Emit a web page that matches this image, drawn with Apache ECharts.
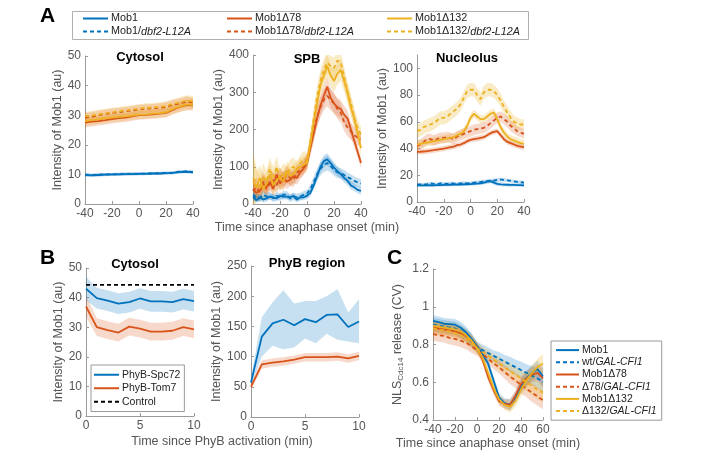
<!DOCTYPE html>
<html>
<head>
<meta charset="utf-8">
<script src="https://cdn.jsdelivr.net/npm/echarts@6/dist/echarts.min.js"></script>
<style>
  html, body { margin: 0; padding: 0; background: #fff; }
  #chart { width: 727px; height: 458px; }
</style>
</head>
<body>
<div id="chart"></div>
<script>
// ---- colours (MATLAB default order)
const BLUE = '#0072BD', RED = '#D95319', YEL = '#EDB120';

// ---- Panel A : time axes
const tA = [-40,-35,-30,-25,-20,-15,-10,-5,0,5,10,15,20,25,30,35,40];
const tFine = [-40,-37.5,-35,-32.5,-30,-27.5,-25,-22.5,-20,-17.5,-15,-12.5,-10,-7.5,-5,-2.5,0,2.5,5,7.5,10,12.5,15,17.5,20,22.5,25,27.5,30,32.5,35,37.5,40];

// A - Cytosol
const cytMob1     = [9.8,9.7,9.8,9.9,10.0,10.0,10.1,10.1,10.2,10.2,10.3,10.3,10.4,10.5,10.8,10.9,10.7];
const cytMob1Dbf  = [9.9,9.8,9.9,10.0,10.0,10.1,10.1,10.2,10.2,10.3,10.3,10.4,10.5,10.6,10.9,11.0,10.8];
const cytD78      = [27.5,27.8,28.0,28.3,28.7,29.0,29.2,29.6,30.0,30.1,30.3,30.5,30.8,31.8,32.8,33.4,33.5];
const cytD78Dbf   = [29.2,29.5,30.0,30.4,30.8,31.0,31.3,31.6,32.0,32.2,32.3,32.5,32.8,33.5,34.0,34.5,34.3];
const cytD132     = [28.0,28.3,28.6,28.9,29.2,29.4,29.6,29.9,30.2,30.3,30.5,30.7,31.0,32.0,32.9,33.6,33.6];
const cytD132Dbf  = [29.6,29.9,30.3,30.7,31.0,31.3,31.6,31.9,32.2,32.5,32.6,32.8,33.1,33.8,34.3,34.9,34.7];
const cytErrBlue  = [0.5,0.5,0.5,0.5,0.5,0.5,0.5,0.5,0.5,0.5,0.5,0.5,0.5,0.5,0.5,0.5,0.5];
const cytErrOr    = [1.6,1.6,1.5,1.5,1.5,1.5,1.5,1.5,1.5,1.5,1.5,1.5,1.6,1.6,1.7,1.8,1.8];

// A - SPB
const spbMob1    = [20,10,18,12,15,20,18,15,22,20,20,18,22,12,18,18,22,30,50,75,100,115,120,110,98,88,80,70,62,50,45,38,35];
const spbMob1Dbf = [25,18,15,25,20,22,15,22,18,25,25,15,20,18,20,25,28,40,60,80,95,105,110,102,92,85,82,78,72,68,62,58,55];
const spbD78     = [40,30,35,55,45,60,40,80,55,70,60,65,75,70,85,95,110,150,190,230,265,290,315,285,270,260,255,240,230,200,170,140,110];
const spbD78Dbf  = [35,45,30,60,40,55,65,50,75,60,80,70,65,85,90,100,115,155,195,235,260,280,290,280,270,255,245,220,205,195,185,178,175];
const spbD132    = [60,45,70,40,55,80,50,65,70,60,90,75,80,95,100,105,110,160,220,270,320,345,370,345,330,350,360,330,300,260,230,190,150];
const spbD132Dbf = [70,55,40,75,60,95,70,100,65,85,75,95,100,90,110,120,115,170,230,290,330,360,380,370,365,385,380,340,300,270,230,205,185];
const spbErrMob1    = [10,8,8,8,8,8,8,8,8,8,8,8,8,8,8,8,9,10,12,14,15,16,16,15,14,13,12,12,11,11,10,10,10];
const spbErrMob1Dbf = [12,10,10,10,10,10,10,10,10,10,10,10,10,10,10,10,10,12,14,16,18,20,20,18,16,15,14,14,13,12,12,12,12];
const spbErrD78     = [25,20,20,22,20,20,20,22,20,20,20,18,18,18,18,18,18,20,22,24,25,26,26,26,25,25,24,24,22,20,18,16,15];
const spbErrD78Dbf  = [30,25,22,25,22,22,22,22,22,22,22,20,20,20,20,20,20,22,24,26,28,28,28,28,28,26,26,24,24,22,22,20,20];
const spbErrD132    = [70,40,35,35,30,30,30,28,28,25,25,25,25,22,22,22,22,24,26,28,30,30,30,30,30,30,30,28,28,26,25,24,22];
const spbErrD132Dbf = [70,45,35,35,30,30,30,28,28,25,25,25,25,22,22,22,22,24,26,28,30,30,28,28,28,28,28,28,26,26,25,24,22];

// A - Nucleolus
const nucMob1    = [12.5,12.5,12.4,12.5,12.6,12.5,12.6,12.7,12.8,12.8,12.9,13.0,13.0,13.1,13.2,13.3,13.4,13.6,13.8,14.0,14.5,15.2,15.6,14.5,13.5,13.2,13.0,12.9,12.8,12.8,12.7,12.6,12.5];
const nucMob1Dbf = [13.0,13.2,13.0,13.4,14.0,13.5,13.2,14.0,13.8,13.5,14.2,13.8,13.6,14.0,14.3,13.9,14.2,14.5,14.8,15.0,15.3,15.6,15.8,16.0,16.5,16.8,16.5,16.2,15.8,15.5,15.0,14.8,14.5];
const nucD78     = [37.5,37.6,37.8,38.0,38.5,38.8,39.2,39.6,40.0,40.5,41.0,41.5,42.5,43.0,44.0,45.5,46.5,47.0,47.5,48.0,48.5,50.0,51.5,52.5,53.0,50.0,47.0,45.0,44.0,43.0,42.0,41.5,41.0];
const nucD78Dbf  = [42,43,45,47,47,46,47,48,48,48.5,48,47,49,50,51,52,53,54,54.5,55,55.5,57,59,61,63,64,62,60,57,55,53,52,51];
const nucD132    = [43,43.5,44,44.5,45,45.5,46,46.5,47,47.5,48,48.5,50,51,53,57,63,66,64,62,62,64,66,67,62,56,52,49,47,46,45,44,43.5];
const nucD132Dbf = [53,54,56,57,58,59,61,63,63,64,66,68,70,73,78,83,84,84,80,77,82,84,84,83,80,76,71,67,63,60,59,58,58];
const nucErrBlue = [1.2,1.2,1.2,1.2,1.2,1.2,1.2,1.2,1.2,1.2,1.2,1.2,1.2,1.2,1.2,1.2,1.2,1.2,1.2,1.3,1.4,1.5,1.5,1.5,1.5,1.5,1.4,1.3,1.3,1.2,1.2,1.2,1.2];
const nucErrD78  = [2,2,2,2,2,2,2,2,2,2,2,2,2,2,2,2,2,2,2,2,2,2,2,2,2,2,2,2,2,2,2,2,2];
const nucErrD78Dbf = [4,4,4,4,4,4,4,4,4,4,4,4,4,4,4,4,4,4,4,4,4,4,4,4,4,4,4,4,4,4,3.5,3.5,3.5];
const nucErrD132 = [3,3,3,3,3,3,3,3,3,3,3,3,3,3,3,3,3,3,3,3,3,3,3,3,3,3,3,3,3,3,3,3,3];
const nucErrD132Dbf = [5,5,5,5,5,5,5,5,5,5,5,5,5,5,5,5,5,5,5,5,5,5,5,5,5,5,5,5,5,4.5,4.5,4,4];

// ---- Panel B
const tB = [0,1,2,3,4,5,6,7,8,9,10];
const bCytSpc72  = [43,39.8,39,38,38.5,39.7,38.7,38.7,38.5,39.5,38.8];
const bCytTom7   = [37,30,29,28.2,30.2,29.5,28.5,28.5,28.8,30,29.3];
const bCytCtrl   = [44.3,44.3,44.3,44.3,44.3,44.3,44.3,44.3,44.3,44.3,44.3];
const bCytErrSpc = [4,3.5,3.5,3.5,3.5,3.5,3.5,3.5,3.5,3.5,3.5];
const bCytErrTom = [3.5,3,3,3,3,3,3,3,3,3,3];
const bRegSpc72   = [57,133,155,161,152,162,157,169,170,149,158];
const bRegSpc72Hi = [65,165,190,210,188,192,192,200,212,173,195];
const bRegSpc72Lo = [50,100,118,112,115,130,122,138,128,125,122];
const bRegTom7    = [50,87,90,92,95,99,99,99,100,97,101];
const bRegErrTom  = [5,7,7,7,7,7,7,7,7,7,7];

// ---- Panel C
const tC = [-40,-35,-30,-25,-20,-15,-10,-5,0,5,10,15,20,25,30,35,40,45,50,55,60];
const cMob1    = [.925,.918,.91,.908,.905,.89,.865,.83,.79,.75,.70,.61,.52,.49,.48,.52,.58,.62,.65,.67,.63];
const cWtGal   = [.905,.9,.895,.89,.885,.87,.85,.82,.785,.77,.755,.74,.725,.71,.695,.68,.665,.65,.635,.62,.6];
const cD78     = [.89,.885,.88,.875,.87,.86,.845,.82,.785,.72,.63,.56,.5,.485,.48,.53,.59,.62,.64,.65,.62];
const cD78Gal  = [.855,.85,.845,.835,.83,.82,.81,.79,.77,.75,.725,.7,.68,.655,.63,.61,.585,.565,.545,.525,.505];
const cD132    = [.9,.895,.89,.885,.88,.87,.85,.82,.78,.73,.65,.57,.51,.48,.47,.5,.56,.61,.65,.68,.7];
const cD132Gal = [.885,.88,.875,.87,.86,.85,.835,.81,.78,.76,.74,.72,.7,.68,.66,.64,.62,.6,.58,.56,.545];
const cErrSolid = [.03,.03,.03,.03,.03,.03,.03,.03,.025,.025,.025,.025,.025,.025,.03,.03,.035,.04,.04,.045,.05];
const cErrDash  = [.035,.035,.035,.035,.035,.035,.035,.035,.03,.03,.03,.03,.035,.035,.04,.04,.045,.045,.05,.05,.05];

const FONT = 'Liberation Sans';
const GRAY = '#555';

function zip(xs, ys) { return xs.map((x, i) => [x, ys[i]]); }

function line(name, xs, ys, color, dashed, g) {
  return {
    name: name, type: 'line', xAxisIndex: g, yAxisIndex: g,
    data: zip(xs, ys), symbol: 'none', showSymbol: false, z: 3,
    lineStyle: { color: color, width: 1.8, type: dashed ? [4, 3] : 'solid' },
    itemStyle: { color: color }
  };
}

// shaded error band, drawn as one polygon through the axis scales
function band(xs, lo, hi, fill, g) {
  return {
    type: 'custom', xAxisIndex: g, yAxisIndex: g, silent: true, clip: true, z: 1,
    data: [[xs[0], lo[0]]],
    renderItem: function (params, api) {
      const pts = [];
      for (let i = 0; i < xs.length; i++) pts.push(api.coord([xs[i], hi[i]]));
      for (let i = xs.length - 1; i >= 0; i--) pts.push(api.coord([xs[i], lo[i]]));
      return { type: 'polygon', shape: { points: pts }, style: { fill: fill } };
    }
  };
}
function bandErr(xs, m, e, fill, g) {
  return band(xs, m.map((v, i) => v - e[i]), m.map((v, i) => v + e[i]), fill, g);
}

const FB = 'rgba(0,114,189,0.22)', FR = 'rgba(217,83,25,0.22)', FY = 'rgba(237,177,32,0.25)';

const grids = [
  { left: 85,  top: 56,  width: 108, height: 148 },   // A cytosol
  { left: 253, top: 55,  width: 108, height: 149 },   // A SPB
  { left: 417, top: 55,  width: 107, height: 147 },   // A nucleolus
  { left: 86,  top: 268, width: 108, height: 148 },   // B cytosol
  { left: 251, top: 266, width: 108, height: 151 },   // B PhyB region
  { left: 433, top: 269, width: 110, height: 151 }    // C
];

function axBase(g) {
  return {
    gridIndex: g, type: 'value',
    axisLine: { show: true, onZero: false, lineStyle: { color: '#9a9a9a', width: 1 } },
    axisTick: { show: true, inside: true, length: 3, lineStyle: { color: '#9a9a9a' } },
    axisLabel: { color: GRAY, fontSize: 12, fontFamily: FONT, margin: 4 },
    splitLine: { show: false },
    nameTextStyle: { color: GRAY, fontSize: 12.5, fontFamily: FONT }
  };
}
function xAx(g, min, max, interval, name, gap) {
  return Object.assign(axBase(g), { min: min, max: max, interval: interval,
    name: name || '', nameLocation: 'middle', nameGap: gap || 18 });
}
function yAx(g, min, max, interval, name, gap, extra) {
  const a = Object.assign(axBase(g), { min: min, max: max, interval: interval,
    name: name, nameLocation: 'middle', nameGap: gap });
  if (extra) Object.assign(a.axisLabel, extra);
  return a;
}

const YNAME = 'Intensity of Mob1 (au)';

const option = {
  animation: false,
  backgroundColor: '#fff',
  textStyle: { fontFamily: FONT },
  grid: grids,
  xAxis: [
    xAx(0, -40, 40, 20),
    xAx(1, -40, 40, 20, 'Time since anaphase onset (min)', 16),
    xAx(2, -40, 40, 20),
    xAx(3, 0, 10, 5),
    xAx(4, 0, 10, 5),
    xAx(5, -40, 60, 20, 'Time since anaphase onset (min)', 14)
  ],
  yAxis: [
    yAx(0, 0, 50, 10, YNAME, 20),
    yAx(1, 0, 400, 100, YNAME, 27),
    yAx(2, 0, 110, 20, YNAME, 20, { showMaxLabel: false }),
    yAx(3, 0, 50, 10, YNAME, 20),
    yAx(4, 0, 250, 50, YNAME, 27),
    Object.assign(yAx(5, 0.4, 1.2, 0.2, '{a|NLS}{s|Cdc14}{a| release (CV)}', 28), {
      nameTextStyle: { color: GRAY, fontFamily: FONT, rich: {
        a: { color: GRAY, fontSize: 12.5, fontFamily: FONT },
        s: { color: GRAY, fontSize: 8, fontFamily: FONT, verticalAlign: 'bottom', padding: [6, 0, 0, 0] }
      } }
    })
  ],
  title: [
    { text: 'A', left: 40, top: 6 },
    { text: 'B', left: 40, top: 248 },
    { text: 'C', left: 387, top: 248 },
    { text: 'Cytosol', left: 140, top: 51, textAlign: 'center' },
    { text: 'SPB', left: 307, top: 53, textAlign: 'center' },
    { text: 'Nucleolus', left: 467, top: 52, textAlign: 'center' },
    { text: 'Cytosol', left: 135, top: 258, textAlign: 'center' },
    { text: 'PhyB region', left: 307, top: 257, textAlign: 'center' }
  ].map((t, i) => Object.assign(t, { padding: 0, textStyle: i < 3
    ? { fontSize: 21, fontWeight: 'bold', color: '#000', fontFamily: FONT }
    : { fontSize: 13, fontWeight: 'bold', color: '#000', fontFamily: FONT } })),
  graphic: [
    { type: 'rect', shape: { x: 72.5, y: 11.5, width: 456, height: 28 }, style: { fill: 'none', stroke: '#b0b0b0', lineWidth: 1 }, z: 0 },
    { type: 'text', x: 222, y: 442, style: { text: 'Time since PhyB activation (min)', fill: GRAY, fontSize: 12.5, fontFamily: FONT, align: 'center', verticalAlign: 'middle' } }
  ],
  legend: [],
  series: []
};

// ---- legends
function richFmt(name) {
  const k = name.indexOf('/');
  if (k < 0) return '{n|' + name + '}';
  return '{n|' + name.slice(0, k + 1) + '}{i|' + name.slice(k + 1) + '}';
}
function legend(data, left, top, size, lh, extra) {
  return Object.assign({
    data: data, orient: 'vertical', left: left, top: top, padding: 0,
    itemWidth: 25, itemHeight: 8, itemGap: 0, selectedMode: false,
    itemStyle: { opacity: 0 },
    formatter: richFmt,
    textStyle: { color: '#222', fontSize: size, lineHeight: lh, fontFamily: FONT, padding: [0, 0, 0, -2],
      rich: { n: { fontSize: size, lineHeight: lh, fontFamily: FONT, color: '#222', verticalAlign: 'middle' },
              i: { fontSize: size, lineHeight: lh, fontFamily: FONT, color: '#222', fontStyle: 'italic', verticalAlign: 'middle' } } }
  }, extra || {});
}
option.legend.push(legend(['Mob1', 'Mob1/dbf2-L12A'], 82, 12, 10.8, 13));
option.legend.push(legend(['Mob1Δ78', 'Mob1Δ78/dbf2-L12A'], 226, 12, 10.8, 13));
option.legend.push(legend(['Mob1Δ132', 'Mob1Δ132/dbf2-L12A'], 386, 12, 10.8, 13));
option.legend.push(legend(['PhyB-Spc72', 'PhyB-Tom7', 'Control'], 91, 365, 10.5, 13.5,
  { padding: [3, 4, 3, 2], borderColor: '#9a9a9a', borderWidth: 1, backgroundColor: '#fff' }));
option.legend.push(legend(['Mob1 ', 'wt/GAL-CFI1', 'Mob1Δ78 ', 'Δ78/GAL-CFI1', 'Mob1Δ132 ', 'Δ132/GAL-CFI1'], 551, 341, 10.5, 12.2,
  { padding: [3, 5, 3, 4], borderColor: '#9a9a9a', borderWidth: 1, backgroundColor: '#fff', itemWidth: 23 }));

const S = option.series;

// A cytosol
S.push(bandErr(tA, cytD78, cytErrOr, FR, 0), bandErr(tA, cytD78Dbf, cytErrOr, FR, 0),
       bandErr(tA, cytD132, cytErrOr, FY, 0), bandErr(tA, cytD132Dbf, cytErrOr, FY, 0),
       bandErr(tA, cytMob1, cytErrBlue, FB, 0), bandErr(tA, cytMob1Dbf, cytErrBlue, FB, 0));
S.push(line('Mob1', tA, cytMob1, BLUE, false, 0), line('Mob1/dbf2-L12A', tA, cytMob1Dbf, BLUE, true, 0),
       line('Mob1Δ78', tA, cytD78, RED, false, 0), line('Mob1Δ78/dbf2-L12A', tA, cytD78Dbf, RED, true, 0),
       line('Mob1Δ132', tA, cytD132, YEL, false, 0), line('Mob1Δ132/dbf2-L12A', tA, cytD132Dbf, YEL, true, 0));

// A SPB
S.push(bandErr(tFine, spbD132, spbErrD132, FY, 1), bandErr(tFine, spbD132Dbf, spbErrD132Dbf, FY, 1),
       bandErr(tFine, spbD78, spbErrD78, FR, 1), bandErr(tFine, spbD78Dbf, spbErrD78Dbf, FR, 1),
       bandErr(tFine, spbMob1, spbErrMob1, FB, 1), bandErr(tFine, spbMob1Dbf, spbErrMob1Dbf, FB, 1));
S.push(line('Mob1', tFine, spbMob1, BLUE, false, 1), line('Mob1/dbf2-L12A', tFine, spbMob1Dbf, BLUE, true, 1),
       line('Mob1Δ78', tFine, spbD78, RED, false, 1), line('Mob1Δ78/dbf2-L12A', tFine, spbD78Dbf, RED, true, 1),
       line('Mob1Δ132', tFine, spbD132, YEL, false, 1), line('Mob1Δ132/dbf2-L12A', tFine, spbD132Dbf, YEL, true, 1));

// A nucleolus
S.push(bandErr(tFine, nucD132Dbf, nucErrD132Dbf, FY, 2), bandErr(tFine, nucD132, nucErrD132, FY, 2),
       bandErr(tFine, nucD78Dbf, nucErrD78Dbf, FR, 2), bandErr(tFine, nucD78, nucErrD78, FR, 2),
       bandErr(tFine, nucMob1, nucErrBlue, FB, 2), bandErr(tFine, nucMob1Dbf, nucErrBlue, FB, 2));
S.push(line('Mob1', tFine, nucMob1, BLUE, false, 2), line('Mob1/dbf2-L12A', tFine, nucMob1Dbf, BLUE, true, 2),
       line('Mob1Δ78', tFine, nucD78, RED, false, 2), line('Mob1Δ78/dbf2-L12A', tFine, nucD78Dbf, RED, true, 2),
       line('Mob1Δ132', tFine, nucD132, YEL, false, 2), line('Mob1Δ132/dbf2-L12A', tFine, nucD132Dbf, YEL, true, 2));

// B cytosol
S.push(bandErr(tB, bCytSpc72, bCytErrSpc, FB, 3), bandErr(tB, bCytTom7, bCytErrTom, FR, 3));
S.push(line('PhyB-Spc72', tB, bCytSpc72, BLUE, false, 3), line('PhyB-Tom7', tB, bCytTom7, RED, false, 3));
S.push(Object.assign(line('Control', tB, bCytCtrl, '#000', true, 3), { lineStyle: { color: '#000', width: 1.8, type: [4, 3] } }));

// B PhyB region
S.push(band(tB, bRegSpc72Lo, bRegSpc72Hi, FB, 4), bandErr(tB, bRegTom7, bRegErrTom, FR, 4));
S.push(line('PhyB-Spc72', tB, bRegSpc72, BLUE, false, 4), line('PhyB-Tom7', tB, bRegTom7, RED, false, 4));

// C
S.push(bandErr(tC, cWtGal, cErrDash, FB, 5), bandErr(tC, cD78Gal, cErrDash, FR, 5), bandErr(tC, cD132Gal, cErrDash, FY, 5),
       bandErr(tC, cMob1, cErrSolid, FB, 5), bandErr(tC, cD78, cErrSolid, FR, 5), bandErr(tC, cD132, cErrSolid, FY, 5));
S.push(line('Mob1 ', tC, cMob1, BLUE, false, 5), line('wt/GAL-CFI1', tC, cWtGal, BLUE, true, 5),
       line('Mob1Δ78 ', tC, cD78, RED, false, 5), line('Δ78/GAL-CFI1', tC, cD78Gal, RED, true, 5),
       line('Mob1Δ132 ', tC, cD132, YEL, false, 5), line('Δ132/GAL-CFI1', tC, cD132Gal, YEL, true, 5));

const chart = echarts.init(document.getElementById('chart'));
chart.setOption(option);
</script>
</body>
</html>
